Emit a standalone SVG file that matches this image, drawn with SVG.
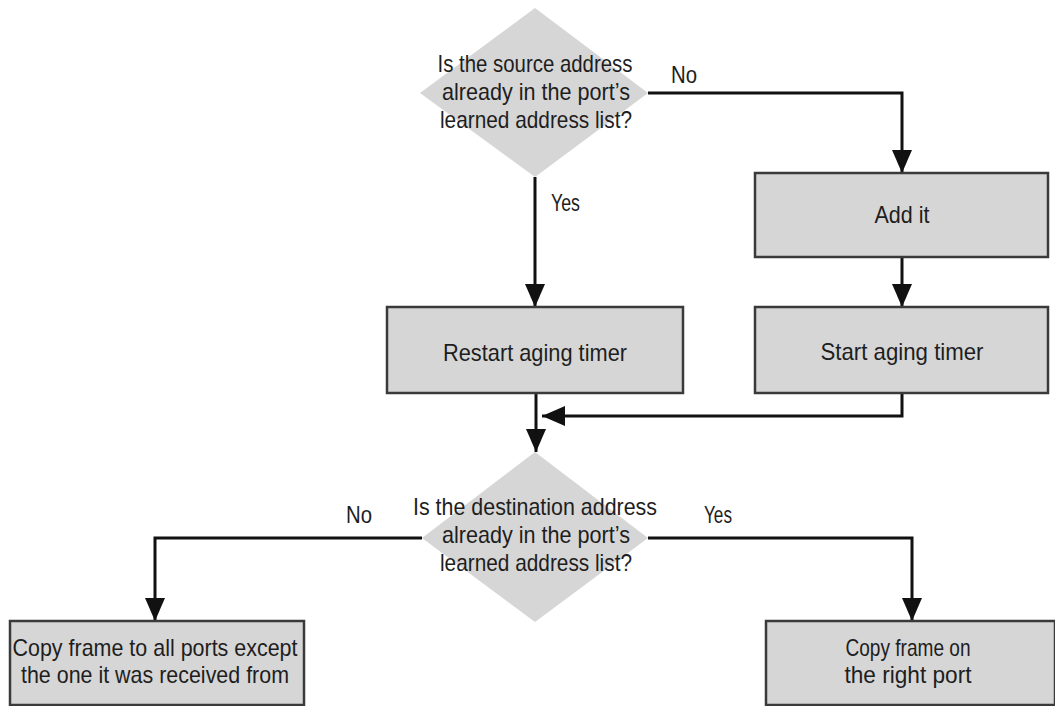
<svg xmlns="http://www.w3.org/2000/svg" width="1055" height="706" viewBox="0 0 1055 706">
<style>
.bg{fill:#ffffff}
.box{fill:#d6d6d6;stroke:#3a3a3a;stroke-width:2.5}
.dia{fill:#d6d6d6;stroke:none}
.t{font-family:"Liberation Sans",Arial,sans-serif;font-size:24px;fill:#1e1e1e;text-anchor:middle}
.lbl{font-family:"Liberation Sans",Arial,sans-serif;font-size:24px;fill:#1e1e1e}
.c{fill:none;stroke:#111;stroke-width:3;marker-end:url(#ah)}
</style>
<defs>
<marker id="ah" markerUnits="userSpaceOnUse" viewBox="0 0 23 20" markerWidth="23" markerHeight="20" refX="23" refY="10" orient="auto">
<path d="M0,0 L23,10 L0,20 Z" fill="#111"/>
</marker>
</defs>
<rect class="bg" x="0" y="0" width="1055" height="706"/>
<g id="connectors">
<path class="c" d="M648,93 H902 V173"/>
<path class="c" d="M535,177 V307"/>
<path class="c" d="M902,257 V307"/>
<path class="c" d="M536,393 V452"/>
<path class="c" d="M902,393 V416 H542"/>
<path class="c" d="M422,538 H155 V621"/>
<path class="c" d="M648,538 H912 V621"/>
</g>
<g id="d1">
<polygon class="dia" points="535,8 648,93 535,177 420,93"/>
<text class="t" x="535" y="72" textLength="195" lengthAdjust="spacingAndGlyphs">Is the source address</text>
<text class="t" x="536" y="100" textLength="188" lengthAdjust="spacingAndGlyphs">already in the port’s</text>
<text class="t" x="536" y="128" textLength="192" lengthAdjust="spacingAndGlyphs">learned address list?</text>
</g>
<g id="lblNo1"><text class="lbl" x="671" y="83" textLength="26" lengthAdjust="spacingAndGlyphs">No</text></g>
<g id="lblYes1"><text class="lbl" x="551" y="211" textLength="29" lengthAdjust="spacingAndGlyphs">Yes</text></g>
<g id="addit">
<rect class="box" x="755" y="173" width="293" height="84"/>
<text class="t" x="902" y="223" textLength="55" lengthAdjust="spacingAndGlyphs">Add it</text>
</g>
<g id="restart">
<rect class="box" x="387" y="307" width="296" height="86"/>
<text class="t" x="535" y="361" textLength="184" lengthAdjust="spacingAndGlyphs">Restart aging timer</text>
</g>
<g id="start">
<rect class="box" x="755" y="307" width="293" height="86"/>
<text class="t" x="902" y="360" textLength="163" lengthAdjust="spacingAndGlyphs">Start aging timer</text>
</g>
<g id="d2">
<polygon class="dia" points="535,452 648,538 535,622 422,538"/>
<text class="t" x="535" y="515" textLength="244" lengthAdjust="spacingAndGlyphs">Is the destination address</text>
<text class="t" x="536" y="543" textLength="188" lengthAdjust="spacingAndGlyphs">already in the port’s</text>
<text class="t" x="536" y="571" textLength="192" lengthAdjust="spacingAndGlyphs">learned address list?</text>
</g>
<g id="lblNo2"><text class="lbl" x="346" y="523" textLength="26" lengthAdjust="spacingAndGlyphs">No</text></g>
<g id="lblYes2"><text class="lbl" x="704" y="523" textLength="28" lengthAdjust="spacingAndGlyphs">Yes</text></g>
<g id="copyall">
<rect class="box" x="10" y="621" width="294" height="84"/>
<text class="t" x="155" y="656" textLength="285" lengthAdjust="spacingAndGlyphs">Copy frame to all ports except</text>
<text class="t" x="155" y="683" textLength="268" lengthAdjust="spacingAndGlyphs">the one it was received from</text>
</g>
<g id="copyright">
<rect class="box" x="766" y="621" width="289" height="84"/>
<text class="t" x="908" y="656" textLength="125" lengthAdjust="spacingAndGlyphs">Copy frame on</text>
<text class="t" x="908" y="683" textLength="127" lengthAdjust="spacingAndGlyphs">the right port</text>
</g>
</svg>
